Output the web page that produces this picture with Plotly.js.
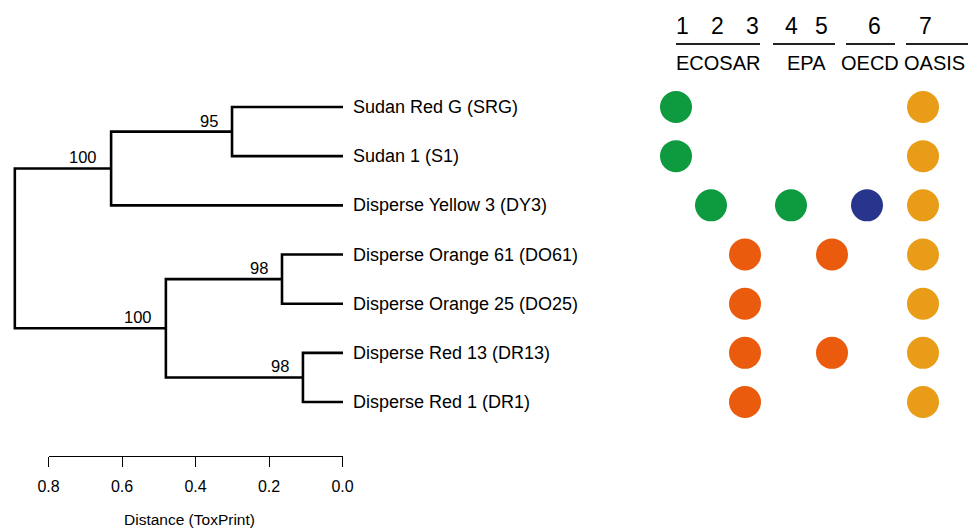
<!DOCTYPE html>
<html>
<head>
<meta charset="utf-8">
<script src="https://cdn.plot.ly/plotly-3.0.1.min.js"></script>
<style>html,body{margin:0;padding:0;background:#fff;}#chart{width:971px;height:528px;}</style>
</head>
<body>
<div id="chart"></div>
<script>
// ---- data ----
const leaves = ['Sudan Red G (SRG)', 'Sudan 1 (S1)', 'Disperse Yellow 3 (DY3)',
  'Disperse Orange 61 (DO61)', 'Disperse Orange 25 (DO25)', 'Disperse Red 13 (DR13)', 'Disperse Red 1 (DR1)'];
// merges: negative = leaf index (1-based), positive = earlier merge (1-based)
const mergeLeft   = [-1, 1, -4, -6, 3, 2];
const mergeRight  = [-2, -3, -5, -7, 4, 5];
const mergeHeight = [0.302, 0.631, 0.166, 0.109, 0.482, 0.893];
const mergeSupport = ['95', '100', '98', '98', '100', ''];
const distTicks = [0.8, 0.6, 0.4, 0.2, 0.0];
const distTickText = ['0.8', '0.6', '0.4', '0.2', '0.0'];
const colLabels = ['1', '2', '3', '4', '5', '6', '7'];
const groupLabels = ['ECOSAR', 'EPA', 'OECD', 'OASIS'];
// membership: columns flagged for each leaf
const flags = [
  [1, 7],
  [1, 7],
  [2, 4, 6, 7],
  [3, 5, 7],
  [3, 7],
  [3, 5, 7],
  [3, 7]
];

// ---- layout / style constants ----
const W = 971, H = 528;
const colX = [676, 711, 745, 791, 832, 867, 923];          // px centres of dot columns
const colNumX = [682, 717, 752, 791, 821, 874, 925];       // px centres of header numbers
const colColor = ['#0E9A3E', '#0E9A3E', '#EA5B0E', '#0E9A3E', '#EA5B0E', '#28358C', '#E99C17'];
const groupLine = [[676, 760], [773, 835], [846, 895], [906, 968]];
const groupTextX = [718, 806, 870, 934];
const FONT = 'Liberation Sans, Arial, Helvetica, sans-serif';
const DOT_LEFT = 600;

// ---- build dendrogram ----
const nodeY = [], nodeH = [];
function childY(c) { return c < 0 ? -c : nodeY[c - 1]; }
function childH(c) { return c < 0 ? 0 : nodeH[c - 1]; }
const dx = [], dy = [];
const annotations = [];
for (let i = 0; i < mergeHeight.length; i++) {
  const yl = childY(mergeLeft[i]), yr = childY(mergeRight[i]);
  const hl = childH(mergeLeft[i]), hr = childH(mergeRight[i]);
  const h = mergeHeight[i];
  nodeY.push((yl + yr) / 2); nodeH.push(h);
  dx.push(hl, h, h, hr, null);
  dy.push(yl, yl, yr, yr, null);
  if (mergeSupport[i]) {
    annotations.push({xref: 'x', yref: 'y', x: h, y: (yl + yr) / 2, text: mergeSupport[i],
      showarrow: false, xanchor: 'right', yanchor: 'middle', xshift: -12, yshift: 11,
      font: {family: FONT, size: 16.5, color: '#000'}});
  }
}
leaves.forEach((name, i) => {
  annotations.push({xref: 'x', yref: 'y', x: 0, y: i + 1, text: name, showarrow: false,
    xanchor: 'left', yanchor: 'middle', xshift: 8, font: {family: FONT, size: 18, color: '#000'}});
});

// ---- dots ----
const traces = [{
  type: 'scatter', mode: 'lines', x: dx, y: dy, xaxis: 'x', yaxis: 'y',
  line: {color: '#000', width: 2.6}, hoverinfo: 'skip', showlegend: false
}, {
  // invisible trace to carry the distance scale axis
  type: 'scatter', mode: 'markers', x: distTicks, y: distTicks.map(() => 4), xaxis: 'x2', yaxis: 'y',
  marker: {opacity: 0}, hoverinfo: 'skip', showlegend: false
}];
colLabels.forEach((c, ci) => {
  const xs = [], ys = [];
  flags.forEach((f, ri) => { if (f.includes(ci + 1)) { xs.push(colX[ci]); ys.push(ri + 1); } });
  traces.push({type: 'scatter', mode: 'markers', x: xs, y: ys, xaxis: 'x3', yaxis: 'y',
    marker: {size: 32, color: colColor[ci], line: {width: 0}}, showlegend: false, hoverinfo: 'skip',
    cliponaxis: false});
  annotations.push({xref: 'paper', yref: 'paper', x: colNumX[ci] / W, y: 1 - 26 / H, text: c,
    showarrow: false, xanchor: 'center', yanchor: 'middle', font: {family: FONT, size: 23, color: '#000'}});
});
const shapes = [];
groupLabels.forEach((g, gi) => {
  shapes.push({type: 'line', xref: 'paper', yref: 'paper', x0: groupLine[gi][0] / W, x1: groupLine[gi][1] / W,
    y0: 1 - 44 / H, y1: 1 - 44 / H, line: {color: '#222', width: 2}});
  annotations.push({xref: 'paper', yref: 'paper', x: groupTextX[gi] / W, y: 1 - 63 / H, text: g,
    showarrow: false, xanchor: 'center', yanchor: 'middle', font: {family: FONT, size: 20, color: '#000'}});
});
annotations.push({xref: 'paper', yref: 'paper', x: 189 / W, y: 1 - 519 / H, text: 'Distance (ToxPrint)',
  showarrow: false, xanchor: 'center', yanchor: 'middle', font: {family: FONT, size: 15.5, color: '#000'}});

const pxPerUnit = (342.5 - 48.5) / 0.8;
const layout = {
  width: W, height: H, margin: {l: 0, r: 0, t: 0, b: 0},
  paper_bgcolor: '#fff', plot_bgcolor: 'rgba(0,0,0,0)',
  showlegend: false,
  xaxis: {domain: [0, 343 / W], range: [343 / pxPerUnit, 0], visible: false, fixedrange: true},
  xaxis2: {domain: [48.5 / W, 342.5 / W], range: [0.8, 0], anchor: 'free', position: 1 - 456 / H,
    showline: true, linecolor: '#000', linewidth: 1, ticks: 'outside', ticklen: 10, tickwidth: 1, tickcolor: '#000',
    tickvals: distTicks, ticktext: distTickText, showgrid: false, zeroline: false, ticklabelstandoff: 6,
    tickfont: {family: FONT, size: 16, color: '#000'}},
  xaxis3: {domain: [DOT_LEFT / W, 1], range: [DOT_LEFT, W], visible: false, anchor: 'y'},
  yaxis: {domain: [1 - 451.2 / H, 1 - 57.83 / H], range: [8, 0], visible: false},
  shapes: shapes, annotations: annotations
};
Plotly.newPlot('chart', traces, layout, {staticPlot: true, displayModeBar: false});
</script>
</body>
</html>
